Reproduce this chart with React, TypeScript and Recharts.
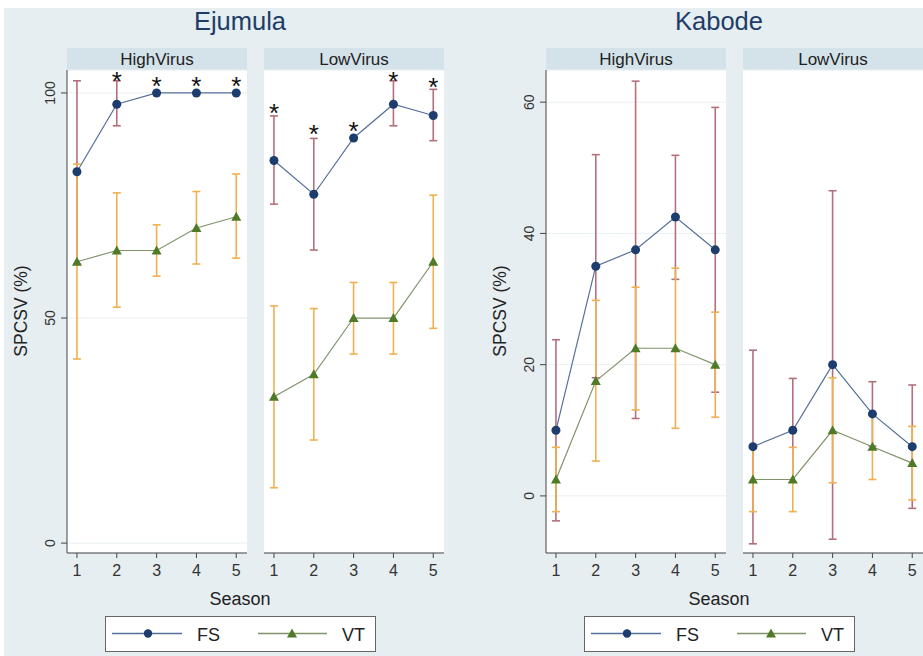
import { CartesianGrid, ComposedChart, ErrorBar, Line, XAxis, YAxis } from "recharts";

const SEASONS = [1, 2, 3, 4, 5];
const SERIES = ["FS", "VT"];
const FACETS = ["HighVirus", "LowVirus"];
const VARIETIES = ["Ejumula", "Kabode"];

// Ejumula, HighVirus
const ejHighFS = [82.5, 97.5, 100, 100, 100];
const ejHighFSLo = [62, 92.7, 100, 100, 100];
const ejHighFSHi = [102.7, 102.7, 100, 100, 100];
const ejHighVT = [62.5, 65, 65, 70, 72.5];
const ejHighVTLo = [40.9, 52.4, 59.3, 62.0, 63.3];
const ejHighVTHi = [84.2, 77.8, 70.7, 78.1, 82.0];
// height of the significance asterisk (null = none)
const ejHighStar = [null, 103.7, 102.7, 102.7, 102.7];

// Ejumula, LowVirus
const ejLowFS = [85, 77.5, 90, 97.5, 95];
const ejLowFSLo = [75.3, 65.1, 90, 92.7, 89.4];
const ejLowFSHi = [94.9, 89.9, 90, 102.7, 100.8];
const ejLowVT = [32.5, 37.5, 50, 50, 62.5];
const ejLowVTLo = [12.3, 22.9, 42.0, 42.0, 47.7];
const ejLowVTHi = [52.7, 52.1, 57.9, 57.9, 77.3];
const ejLowStar = [96.6, 91.9, 92.7, 103.7, 102.5];

// Kabode, HighVirus
const kbHighFS = [10, 35, 37.5, 42.5, 37.5];
const kbHighFSLo = [-3.8, 18, 11.8, 33.0, 15.8];
const kbHighFSHi = [23.8, 52.0, 63.2, 51.9, 59.2];
const kbHighVT = [2.5, 17.5, 22.5, 22.5, 20];
const kbHighVTLo = [-2.4, 5.3, 13.1, 10.3, 12.0];
const kbHighVTHi = [7.4, 29.8, 31.8, 34.7, 28.0];

// Kabode, LowVirus
const kbLowFS = [7.5, 10, 20, 12.5, 7.5];
const kbLowFSLo = [-7.3, 2.1, -6.6, 7.6, -1.9];
const kbLowFSHi = [22.2, 17.9, 46.5, 17.4, 16.9];
const kbLowVT = [2.5, 2.5, 10, 7.5, 5];
const kbLowVTLo = [-2.4, -2.4, 2.0, 2.5, -0.6];
const kbLowVTHi = [7.4, 7.4, 18.0, 12.5, 10.6];

const ejTicks = [0, 50, 100];
const kbTicks = [0, 20, 40, 60];

const FONT = "'Liberation Sans', Arial, sans-serif";
const BG = "#e6eef2";
const STRIP = "#d4e2ea";
const FS_LINE = "#56709a";
const FS_DOT = "#1c3d6e";
const FS_BAR = "#b3707c";
const VT_LINE = "#80946a";
const VT_DOT = "#4f7a28";
const VT_BAR = "#f0b050";

const PLOT_TOP = 70;
const PLOT_W = 180;
const PLOT_H = 483;
const Y_W = 50;
const M_TOP = 20;

function buildRows(
  fs: number[], fsLo: number[], fsHi: number[],
  vt: number[], vtLo: number[], vtHi: number[],
  star?: (number | null)[],
) {
  return SEASONS.map((season, i) => ({
    season,
    fs: fs[i],
    fsErr: [fs[i] - fsLo[i], fsHi[i] - fs[i]],
    vt: vt[i],
    vtErr: [vt[i] - vtLo[i], vtHi[i] - vt[i]],
    star: star ? star[i] : null,
  }));
}

function Circle(props: any) {
  const { cx, cy, index } = props;
  if (cx == null || cy == null) return <g key={index} />;
  return <circle key={index} cx={cx} cy={cy} r={4.5} fill={FS_DOT} />;
}

function Triangle(props: any) {
  const { cx, cy, index } = props;
  if (cx == null || cy == null) return <g key={index} />;
  const s = 5;
  return (
    <polygon
      key={index}
      points={`${cx},${cy - s} ${cx + s},${cy + s * 0.8} ${cx - s},${cy + s * 0.8}`}
      fill={VT_DOT}
    />
  );
}

function Star(props: any) {
  const { cx, cy, value, index } = props;
  if (cx == null || cy == null || value == null) return <g key={index} />;
  return (
    <text key={index} x={cx} y={cy + 14} textAnchor="middle" fontSize={26} fill="#111">
      *
    </text>
  );
}

function YTick({ x, y, payload }: any) {
  const tx = x - 4;
  return (
    <text x={tx} y={y} transform={`rotate(-90 ${tx} ${y})`} textAnchor="middle" fontSize={14} fill="#333">
      {payload.value}
    </text>
  );
}

interface FacetProps {
  rows: ReturnType<typeof buildRows>;
  plotLeft: number;
  domain: [number, number];
  ticks: number[];
  showY: boolean;
}

function Facet({ rows, plotLeft, domain, ticks, showY }: FacetProps) {
  const yW = showY ? Y_W : 0;
  return (
    <div style={{ position: "absolute", left: plotLeft - yW, top: PLOT_TOP - M_TOP }}>
      <ComposedChart
        width={yW + PLOT_W + 10}
        height={M_TOP + PLOT_H + 40}
        data={rows}
        margin={{ top: M_TOP, right: 10, left: 0, bottom: 0 }}
      >
        <CartesianGrid horizontal vertical={false} stroke="#e9eff2" fill="#ffffff" />
        <XAxis
          dataKey="season"
          type="number"
          domain={[0.75, 5.27]}
          ticks={SEASONS}
          height={40}
          tickSize={5}
          tickMargin={7}
          tick={{ fontSize: 16, fill: "#333" }}
          axisLine={{ stroke: "#444" }}
          tickLine={{ stroke: "#444" }}
        />
        {showY ? (
          <YAxis
            type="number"
            domain={domain}
            ticks={ticks}
            width={yW}
            tickSize={6}
            tick={<YTick />}
            axisLine={{ stroke: "#444" }}
            tickLine={{ stroke: "#444" }}
          />
        ) : (
          <YAxis type="number" domain={domain} ticks={ticks} width={0} tick={false} axisLine={false} tickLine={false} />
        )}
        <Line
          dataKey="fs"
          name={SERIES[0]}
          stroke={FS_LINE}
          strokeWidth={1.2}
          dot={Circle}
          activeDot={false}
          isAnimationActive={false}
        >
          <ErrorBar dataKey="fsErr" width={4} stroke={FS_BAR} strokeWidth={1.6} direction="y" isAnimationActive={false} />
        </Line>
        <Line
          dataKey="vt"
          name={SERIES[1]}
          stroke={VT_LINE}
          strokeWidth={1.2}
          dot={Triangle}
          activeDot={false}
          isAnimationActive={false}
        >
          <ErrorBar dataKey="vtErr" width={4} stroke={VT_BAR} strokeWidth={1.6} direction="y" isAnimationActive={false} />
        </Line>
        <Line
          dataKey="star"
          stroke="none"
          dot={Star}
          activeDot={false}
          legendType="none"
          isAnimationActive={false}
        />
      </ComposedChart>
    </div>
  );
}

function Legend({ cx }: { cx: number }) {
  const left = cx - 135;
  return (
    <g transform={`translate(${left},616)`}>
      <rect x={0.5} y={0.5} width={270} height={35} fill="#fff" stroke="#666" />
      <line x1={7} x2={77} y1={17.5} y2={17.5} stroke={FS_LINE} strokeWidth={1.3} />
      <circle cx={43} cy={17.5} r={4.2} fill={FS_DOT} />
      <text x={92} y={24.5} fontSize={18} fill="#222">{SERIES[0]}</text>
      <line x1={153} x2={222} y1={17.5} y2={17.5} stroke={VT_LINE} strokeWidth={1.3} />
      <polygon points={`187,12.5 192,21.5 182,21.5`} fill={VT_DOT} />
      <text x={237} y={24.5} fontSize={18} fill="#222">{SERIES[1]}</text>
    </g>
  );
}

const PANELS = [
  { name: VARIETIES[0], center: 240, axisX: 67, lefts: [67, 264] },
  { name: VARIETIES[1], center: 719, axisX: 546, lefts: [546, 743] },
];

export default function App() {
  const ejRows = [
    buildRows(ejHighFS, ejHighFSLo, ejHighFSHi, ejHighVT, ejHighVTLo, ejHighVTHi, ejHighStar),
    buildRows(ejLowFS, ejLowFSLo, ejLowFSHi, ejLowVT, ejLowVTLo, ejLowVTHi, ejLowStar),
  ];
  const kbRows = [
    buildRows(kbHighFS, kbHighFSLo, kbHighFSHi, kbHighVT, kbHighVTLo, kbHighVTHi),
    buildRows(kbLowFS, kbLowFSLo, kbLowFSHi, kbLowVT, kbLowVTLo, kbLowVTHi),
  ];

  return (
    <div
      style={{
        position: "absolute",
        left: 0,
        top: 0,
        width: 923,
        height: 656,
        overflow: "hidden",
        background: "#fff",
        fontFamily: FONT,
      }}
    >
      <svg width={923} height={656} style={{ position: "absolute", left: 0, top: 0 }}>
        <rect x={4} y={8} width={919} height={648} fill={BG} />
        {PANELS.map((p) => (
          <g key={p.name}>
            <text x={p.center} y={30} textAnchor="middle" fontSize={25.5} fill="#1e3d66">
              {p.name}
            </text>
            {p.lefts.map((l, i) => (
              <g key={l}>
                <rect x={l} y={48} width={PLOT_W} height={22} fill={STRIP} />
                <text x={l + PLOT_W / 2} y={64.5} textAnchor="middle" fontSize={17} fill="#222">
                  {FACETS[i]}
                </text>
              </g>
            ))}
            <text
              x={p.axisX - 40}
              y={311}
              transform={`rotate(-90 ${p.axisX - 40} 311)`}
              textAnchor="middle"
              fontSize={17.5}
              fill="#222"
            >
              SPCSV (%)
            </text>
            <text x={p.center} y={605} textAnchor="middle" fontSize={18} fill="#222">
              Season
            </text>
            <Legend cx={p.center} />
          </g>
        ))}
      </svg>
      <Facet rows={ejRows[0]} plotLeft={67} domain={[-2.2, 105.1]} ticks={ejTicks} showY />
      <Facet rows={ejRows[1]} plotLeft={264} domain={[-2.2, 105.1]} ticks={ejTicks} showY={false} />
      <Facet rows={kbRows[0]} plotLeft={546} domain={[-8.7, 64.9]} ticks={kbTicks} showY />
      <Facet rows={kbRows[1]} plotLeft={743} domain={[-8.7, 64.9]} ticks={kbTicks} showY={false} />
    </div>
  );
}
